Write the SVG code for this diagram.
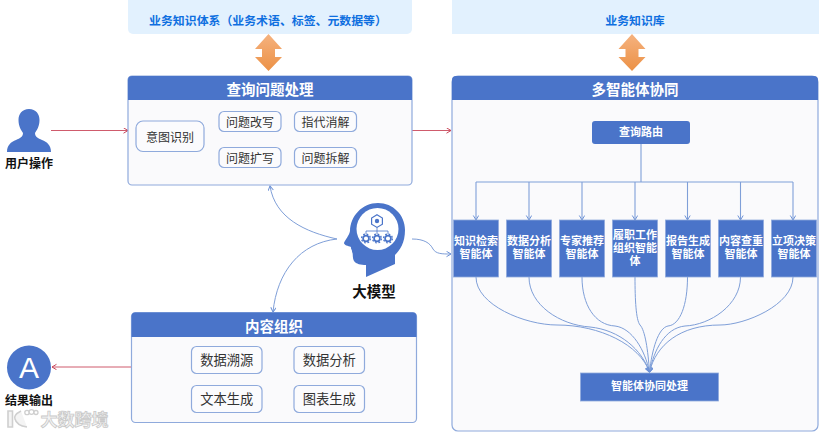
<svg xmlns="http://www.w3.org/2000/svg" xmlns:xlink="http://www.w3.org/1999/xlink" width="820" height="434" viewBox="0 0 820 434">
<style>
text{font-family:"Noto Sans CJK SC","Liberation Sans",sans-serif;text-anchor:middle;dominant-baseline:central}
.top{fill:#e2f1fe}
.topt{fill:#0f6fe0;font-size:11.9px;font-weight:700}
.panel{fill:#fafafc;stroke:#8faadc;stroke-width:1.2}
.head{fill:#4a74c9}
.title{fill:#fff;font-size:14.5px;font-weight:700}
.item{fill:#fbfbfd;stroke:#8faadc;stroke-width:1.2}
.t12{fill:#333;font-size:12px}
.t13{fill:#333;font-size:13.3px}
.agent{fill:#4a74c9;stroke:#8faadc;stroke-width:.8}
.at{fill:#fff;font-size:11px;font-weight:700;font-family:"Liberation Sans","Noto Sans CJK SC",sans-serif}
.lab{fill:#111;font-size:12px;font-weight:700}
.red{fill:none;stroke:#c9485b;stroke-width:.9}
.blue{fill:none;stroke:#7f9fd8;stroke-width:1}
.tree{fill:none;stroke:#7f9fd8;stroke-width:1.1}
.wm{fill:#f4f4f4;stroke:#c9c9c9;stroke-width:.8;font-size:17px;font-weight:700}
</style>
<defs>
<linearGradient id="og" x1="0" y1="0" x2="0" y2="1"><stop offset="0" stop-color="#f5b27f"/><stop offset="1" stop-color="#ec9145"/></linearGradient>
<marker id="ab" markerWidth="7" markerHeight="7" refX="5.5" refY="3" orient="auto" markerUnits="userSpaceOnUse"><path d="M1,0.3 L5.5,3 L1,5.7" fill="none" stroke="#6f93d6" stroke-width="1"/></marker>
<marker id="ar" markerWidth="7" markerHeight="7" refX="5.5" refY="3" orient="auto" markerUnits="userSpaceOnUse"><path d="M1,0.3 L5.5,3 L1,5.7" fill="none" stroke="#c9485b" stroke-width="1"/></marker>
<path id="dbl" d="M0,0 L13.5,15 L6.5,15 L6.5,23 L13.5,23 L0,37 L-13.5,23 L-6.5,23 L-6.5,15 L-13.5,15 Z" fill="url(#og)"/>
<g id="gear"><circle r="2.9" fill="none" stroke="#4a74c9" stroke-width="1.7"/><circle r="4.4" fill="none" stroke="#4a74c9" stroke-width="1.3" stroke-dasharray="1.8 1.66"/></g>
</defs>

<g id="connectors">
<path class="red" d="M51,130.5 H128" marker-end="url(#ar)"/>
<path class="red" d="M412,130.5 H451" marker-end="url(#ar)"/>
<path class="red" d="M131,367 H52" marker-end="url(#ar)"/>
<path class="blue" d="M337,239 C305,232 275,218 270,186" marker-end="url(#ab)"/>
<path class="blue" d="M337,239 C300,243 277,272 273,312" marker-end="url(#ab)"/>
<path class="blue" d="M412,239 C424,239 430,243 433,249 C436,254 442,254 451,254" marker-end="url(#ab)"/>
</g>

<g id="kb-system"><rect class="top" x="128" y="-8" width="284" height="42" rx="5"/><text class="topt" x="268" y="19">业务知识体系（业务术语、标签、元数据等）</text></g>
<g id="kb-base"><rect class="top" x="452" y="-8" width="367" height="42"/><text class="topt" x="635" y="19">业务知识库</text></g>
<use id="arrow-left" href="#dbl" x="268.5" y="34"/>
<use id="arrow-right" href="#dbl" x="632" y="34"/>

<g id="user"><path d="M29,109 C36,109 39.5,114 39.5,120 C39.5,126 37,130 35,133 C35,137 38,138 42,140 C47,142 51,145 51,152 L7,152 C7,145 11,142 16,140 C20,138 23,137 23,133 C21,130 18.5,126 18.5,120 C18.5,114 22,109 29,109 Z" fill="#4a74c9"/><text class="lab" x="29" y="162">用户操作</text></g>

<g id="query">
<rect class="panel" x="128" y="76" width="284" height="109" rx="4"/>
<path class="head" d="M128,100 V80 a4,4 0 0 1 4,-4 H408 a4,4 0 0 1 4,4 V100 Z"/>
<text class="title" x="270" y="88.5">查询问题处理</text>
<rect class="item" x="136" y="121" width="68" height="30.5" rx="7"/><text class="t12" x="170" y="136">意图识别</text>
<rect class="item" x="219" y="111.5" width="62" height="20" rx="5"/><text class="t12" x="250" y="121.5">问题改写</text>
<rect class="item" x="294.5" y="111.5" width="62" height="20" rx="5"/><text class="t12" x="325.5" y="121.5">指代消解</text>
<rect class="item" x="219" y="147.5" width="62" height="20" rx="5"/><text class="t12" x="250" y="157.5">问题扩写</text>
<rect class="item" x="294.5" y="147.5" width="62" height="20" rx="5"/><text class="t12" x="325.5" y="157.5">问题拆解</text>
</g>

<g id="multi-agent">
<rect class="panel" x="452" y="76" width="366" height="355" rx="6"/>
<path class="head" d="M452,100 V80 a4,4 0 0 1 4,-4 H814 a4,4 0 0 1 4,4 V100 Z"/>
<text class="title" x="635" y="88.5">多智能体协同</text>
</g>

<g id="tree-connectors">
<path class="tree" d="M641,144 V182 M476,182 H793"/>
<path class="tree" d="M476,182 V220" marker-end="url(#ab)"/>
<path class="tree" d="M529,182 V220" marker-end="url(#ab)"/>
<path class="tree" d="M582,182 V220" marker-end="url(#ab)"/>
<path class="tree" d="M635,182 V220" marker-end="url(#ab)"/>
<path class="tree" d="M687.5,182 V220" marker-end="url(#ab)"/>
<path class="tree" d="M740.5,182 V220" marker-end="url(#ab)"/>
<path class="tree" d="M793,182 V220" marker-end="url(#ab)"/>
<path class="blue" d="M476,277 C476,305 525,325 557,325 C600,325 640,345 649.5,372" marker-end="url(#ab)"/>
<path class="blue" d="M529,277 C529,305 560,325 590,327 C620,330 642,350 649.5,372" marker-end="url(#ab)"/>
<path class="blue" d="M582,277 C582,305 595,325 615,326 C632,328 645,350 649.5,372" marker-end="url(#ab)"/>
<path class="blue" d="M635,277 C635,300 636,320 640,325 C645,330 648,350 649.5,372" marker-end="url(#ab)"/>
<path class="blue" d="M687.5,277 C687.5,305 680,325 668,326 C658,328 652,350 649.5,372" marker-end="url(#ab)"/>
<path class="blue" d="M740.5,277 C740.5,305 710,325 685,326 C665,328 654,350 649.5,372" marker-end="url(#ab)"/>
<path class="blue" d="M793,277 C793,305 745,325 720,325 C680,325 656,345 649.5,372" marker-end="url(#ab)"/>
</g>

<g id="route"><rect x="592" y="121" width="98" height="23" rx="3" fill="#4a74c9"/><text class="at" x="641" y="131.5">查询路由</text></g>
<g id="agent-1"><rect class="agent" x="453.5" y="220" width="45" height="57"/><text class="at" y="241"><tspan x="476">知识检索</tspan><tspan x="476" dy="13.2">智能体</tspan></text></g>
<g id="agent-2"><rect class="agent" x="506.5" y="220" width="45" height="57"/><text class="at" y="241"><tspan x="529">数据分析</tspan><tspan x="529" dy="13.2">智能体</tspan></text></g>
<g id="agent-3"><rect class="agent" x="559.5" y="220" width="45" height="57"/><text class="at" y="241"><tspan x="582">专家推荐</tspan><tspan x="582" dy="13.2">智能体</tspan></text></g>
<g id="agent-4"><rect class="agent" x="612.5" y="220" width="45" height="57"/><text class="at" y="234.5"><tspan x="635">履职工作</tspan><tspan x="635" dy="13.2">组织智能</tspan><tspan x="635" dy="13.2">体</tspan></text></g>
<g id="agent-5"><rect class="agent" x="665.5" y="220" width="45" height="57"/><text class="at" y="241"><tspan x="688">报告生成</tspan><tspan x="688" dy="13.2">智能体</tspan></text></g>
<g id="agent-6"><rect class="agent" x="718.5" y="220" width="45" height="57"/><text class="at" y="241"><tspan x="741">内容查重</tspan><tspan x="741" dy="13.2">智能体</tspan></text></g>
<g id="agent-7"><rect class="agent" x="771.5" y="220" width="45" height="57"/><text class="at" y="241"><tspan x="794">立项决策</tspan><tspan x="794" dy="13.2">智能体</tspan></text></g>
<g id="collab"><rect class="agent" x="580.5" y="373" width="138" height="28"/><text class="at" x="649.5" y="386">智能体协同处理</text></g>

<g id="llm">
<path d="M366,277 L366,265 C361,265 356,264 354,261 C352,257 353.5,254 352,252 C352.5,250 350.5,249 351,247 C348,246 344,245 344,243 C345,240 349.5,235 350,231 C350.5,216 362,203 378,203 C393,203 405,215 405,230 C405,243 400,250 395,255 L395,264 Z" fill="#4a74c9"/>
<circle cx="377.5" cy="229" r="21" fill="#fff"/>
<path d="M377,214.8 L382.4,218 L382.4,224.2 L377,227.4 L371.6,224.2 L371.6,218 Z" fill="none" stroke="#4a74c9" stroke-width="1.2"/>
<circle cx="377" cy="221" r="2.2" fill="#4a74c9"/>
<use href="#gear" x="366" y="238.5"/><use href="#gear" x="377" y="238.5"/><use href="#gear" x="388" y="238.5"/>
<path d="M377,227.4 V231 M366,234 V231 H388 V234 M377,231 V234" fill="none" stroke="#4a74c9" stroke-width=".8"/>
<text x="374" y="290" fill="#111" font-size="14.5" font-weight="700">大模型</text>
</g>

<g id="content">
<rect class="panel" x="131.5" y="312.5" width="285" height="110" rx="4"/>
<path class="head" d="M131.5,337 V316.5 a4,4 0 0 1 4,-4 H412.5 a4,4 0 0 1 4,4 V337 Z"/>
<text class="title" x="274" y="325">内容组织</text>
<rect class="item" x="191.5" y="346.5" width="70.5" height="27" rx="5"/><text class="t13" x="226.8" y="359.5">数据溯源</text>
<rect class="item" x="294" y="346.5" width="70.5" height="27" rx="5"/><text class="t13" x="329.3" y="359.5">数据分析</text>
<rect class="item" x="191.5" y="385.5" width="70.5" height="27" rx="5"/><text class="t13" x="226.8" y="398.5">文本生成</text>
<rect class="item" x="294" y="385.5" width="70.5" height="27" rx="5"/><text class="t13" x="329.3" y="398.5">图表生成</text>
</g>

<g id="output"><circle cx="29" cy="367.5" r="22" fill="#4a74c9"/><text x="29" y="367.5" fill="#fff" font-size="30" style="font-family:'Liberation Sans',sans-serif">A</text><text class="lab" x="29" y="399">结果输出</text></g>

<g id="watermark">
<path d="M8,411 H12.5 V427 H8 Z M21,411 C15,414 14,417 15,419 C16,423 20,426 27,427" fill="#f4f4f4" stroke="#cfcfcf" stroke-width="1.6"/>
<circle cx="27" cy="412.5" r="2.2" fill="#fff" stroke="#cfcfcf" stroke-width="1.3"/><circle cx="31.5" cy="412" r="2.4" fill="#fff" stroke="#cfcfcf" stroke-width="1.3"/><circle cx="36" cy="412.5" r="2" fill="#fff" stroke="#cfcfcf" stroke-width="1.3"/>
<text class="wm" x="74.5" y="418">大数跨境</text>
</g>
</svg>
